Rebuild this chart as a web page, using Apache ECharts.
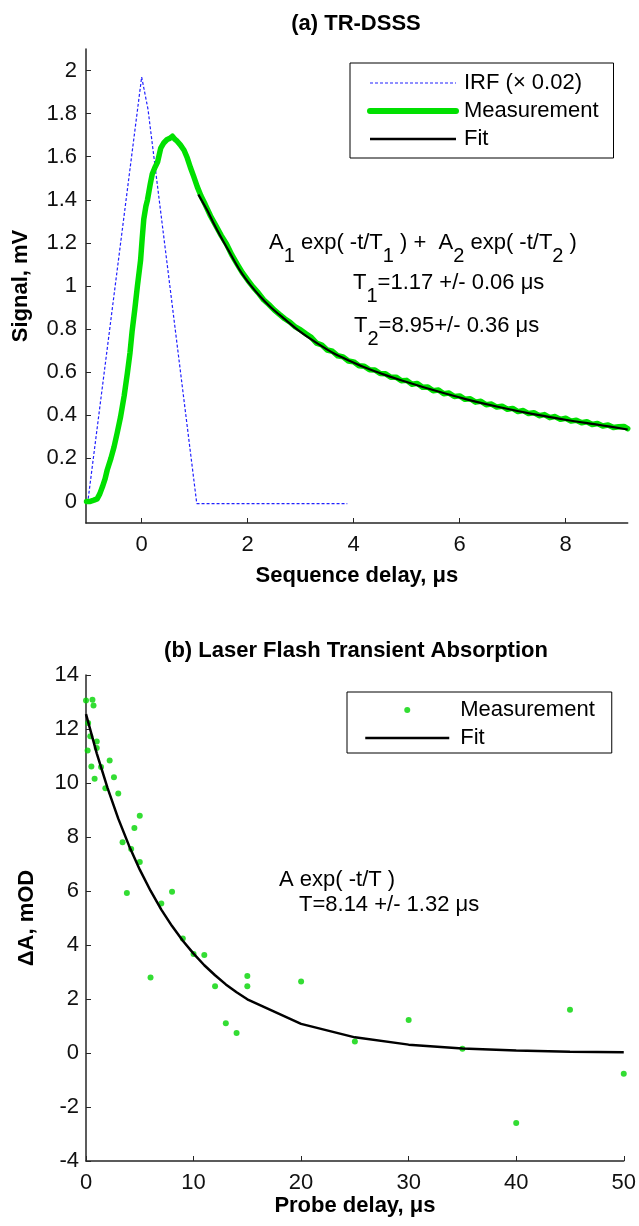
<!DOCTYPE html>
<html>
<head>
<meta charset="utf-8">
<script src="https://cdn.jsdelivr.net/npm/echarts@6/dist/echarts.min.js"></script>
<style>
  html, body { margin: 0; padding: 0; background: #fff; }
  #chart { width: 639px; height: 1226px; }
</style>
</head>
<body>
<div id="chart"></div>
<script>
// ---- (a) TR-DSSS: instrument response, measured signal and biexponential fit ----
const irfTime   = [-1.02, 0, 0.12, 1.04, 3.88];
const irfSignal = [-0.01, 1.97, 1.82, -0.01, -0.01];

const measTime = [
  -1.04, -0.97, -0.90, -0.84, -0.79, -0.74, -0.69, -0.65, -0.58, -0.52, -0.46, -0.40,
  -0.33, -0.27, -0.22, -0.18, -0.13, -0.08, -0.04, -0.02, 0.01, 0.04, 0.08, 0.11,
  0.16, 0.20, 0.25, 0.30, 0.36, 0.42, 0.48, 0.53, 0.58, 0.63, 0.67, 0.73,
  0.80, 0.86, 0.92, 0.98, 1.05, 1.12, 1.2, 1.3, 1.4, 1.5, 1.6, 1.7,
  1.8, 1.9, 2.0, 2.1, 2.2, 2.3, 2.4, 2.5, 2.6, 2.7, 2.8, 2.9,
  3.0, 3.1, 3.2, 3.3, 3.4, 3.5, 3.6, 3.7, 3.8, 3.9, 4.0, 4.1,
  4.2, 4.3, 4.4, 4.5, 4.6, 4.7, 4.8, 4.9, 5.0, 5.1, 5.2, 5.3,
  5.4, 5.5, 5.6, 5.7, 5.8, 5.9, 6.0, 6.1, 6.2, 6.3, 6.4, 6.5,
  6.6, 6.7, 6.8, 6.9, 7.0, 7.1, 7.2, 7.3, 7.4, 7.5, 7.6, 7.7,
  7.8, 7.9, 8.0, 8.1, 8.2, 8.3, 8.4, 8.5, 8.6, 8.7, 8.8, 8.9,
  9.0, 9.1, 9.17
];
const measSignal = [
  0.000, 0.000, 0.006, 0.012, 0.035, 0.068, 0.105, 0.146, 0.200, 0.254, 0.320, 0.390,
  0.490, 0.595, 0.690, 0.790, 0.890, 1.000, 1.080, 1.120, 1.220, 1.310, 1.370, 1.400,
  1.470, 1.520, 1.550, 1.575, 1.640, 1.665, 1.680, 1.685, 1.695, 1.680, 1.672, 1.655,
  1.630, 1.595, 1.550, 1.510, 1.460, 1.418, 1.378, 1.325, 1.280, 1.235, 1.195, 1.145,
  1.103, 1.062, 1.028, 0.996, 0.968, 0.936, 0.914, 0.889, 0.868, 0.848, 0.832, 0.810,
  0.796, 0.778, 0.762, 0.735, 0.726, 0.703, 0.697, 0.676, 0.671, 0.652, 0.648, 0.630,
  0.628, 0.611, 0.610, 0.594, 0.593, 0.576, 0.577, 0.560, 0.562, 0.544, 0.548, 0.530,
  0.531, 0.514, 0.517, 0.500, 0.503, 0.487, 0.490, 0.474, 0.477, 0.461, 0.465, 0.449,
  0.452, 0.438, 0.442, 0.428, 0.432, 0.417, 0.422, 0.408, 0.412, 0.398, 0.403, 0.389,
  0.394, 0.381, 0.386, 0.373, 0.377, 0.365, 0.370, 0.357, 0.362, 0.350, 0.355, 0.343,
  0.347, 0.348, 0.338
];

const fitTime = [1.07, 1.15, 1.24, 1.35, 1.49, 1.65, 1.86, 2.05, 2.24, 2.45, 2.68, 2.99,
                 3.3, 3.62, 3.94, 4.25, 4.56, 4.88, 5.5, 6.13, 6.76, 7.39, 8.02, 8.64, 9.17];
const fitSignal = [1.425, 1.39, 1.35, 1.295, 1.23, 1.16, 1.07, 1.005, 0.95, 0.898, 0.85, 0.788,
                   0.736, 0.688, 0.651, 0.618, 0.59, 0.564, 0.517, 0.474, 0.437, 0.405, 0.378, 0.355, 0.334];

const topXTicks = [0, 2, 4, 6, 8];
const topYTicks = [0, 0.2, 0.4, 0.6, 0.8, 1, 1.2, 1.4, 1.6, 1.8, 2];

// ---- (b) Laser flash transient absorption: points and single-exponential fit ----
const probeDelay = [0, 0.6, 0.7, 0.2, 0.4, 1, 1, 0.15, 0.5, 1.4, 2.2, 0.8, 2.6, 1.8, 3,
                    5, 4.5, 3.4, 4.2, 5, 3.8, 8, 7, 9, 10, 11, 6, 12, 15, 15, 13, 14,
                    20, 25, 30, 35, 40, 45, 50];
const deltaA = [13.06, 13.08, 12.87, 12.22, 11.73, 11.54, 11.3, 11.2, 10.61, 10.59, 10.83, 10.16, 10.21, 9.81, 9.61,
                8.79, 8.33, 7.81, 7.56, 7.07, 5.93, 5.97, 5.54, 4.24, 3.67, 3.63, 2.8, 2.47, 2.85, 2.47, 1.1, 0.74,
                2.65, 0.43, 1.22, 0.16, -2.59, 1.6, -0.77];

const fitDelay  = [0, 1, 2, 3, 4, 5, 6, 7, 8, 9, 10, 11, 12, 13, 14, 15, 20, 25, 30, 35, 40, 45, 50];
const fitDeltaA = [12.55, 11.1, 9.82, 8.68, 7.68, 6.79, 6.01, 5.31, 4.70, 4.16, 3.68, 3.25, 2.88, 2.54, 2.25, 1.99,
                   1.08, 0.58, 0.31, 0.17, 0.09, 0.05, 0.03];

// ---- styling ----
const FONT = '"Liberation Sans", Arial, Helvetica, sans-serif';
const AXIS_COLOR = '#262626';
const GREEN = '#00e000';
const DOT_GREEN = '#00d400';
const BLUE = '#2020ff';

function pairs(xs, ys) { return xs.map((x, i) => [x, ys[i]]); }

function axisBase(extra) {
  return Object.assign({
    type: 'value',
    nameLocation: 'middle',
    nameTextStyle: { color: '#000', fontSize: 22, fontWeight: 'bold', fontFamily: FONT },
    axisLine: { show: true, onZero: false, lineStyle: { color: AXIS_COLOR, width: 1.5 } },
    axisTick: { show: true, inside: true, length: 5, lineStyle: { color: AXIS_COLOR, width: 1 } },
    axisLabel: { color: '#111', fontSize: 22, fontFamily: FONT },
    splitLine: { show: false }
  }, extra);
}

// rich text: "n" = normal run, "s" = subscript pushed below the baseline
const richText = {
  n: { fontSize: 22, fontFamily: FONT, fill: '#000', verticalAlign: 'middle' },
  s: { fontSize: 20, fontFamily: FONT, fill: '#000', verticalAlign: 'middle', padding: [27, 0, 0, 0] }
};
function note(x, y, text) {
  return { type: 'text', x: x, y: y, z: 10,
           style: { text: text, rich: richText, align: 'left', verticalAlign: 'middle',
                    fontSize: 22, fontFamily: FONT, fill: '#000' } };
}

const titleStyle = { fontSize: 22, fontWeight: 'bold', fontFamily: FONT, color: '#000' };
const legendText = { fontSize: 22, lineHeight: 22, color: '#000', fontFamily: FONT, padding: [0, 0, 0, 3] };

const option = {
  animation: false,
  backgroundColor: '#fff',
  title: [
    { text: '(a) TR-DSSS', left: 356, top: 13, textAlign: 'center', padding: 0, textStyle: titleStyle },
    { text: '(b) Laser Flash Transient Absorption', left: 356, top: 640, textAlign: 'center', padding: 0, textStyle: titleStyle }
  ],
  grid: [
    { left: 86, top: 49, width: 541.7, height: 474, containLabel: false },
    { left: 86, top: 675, width: 538, height: 486, containLabel: false }
  ],
  xAxis: [
    axisBase({
      gridIndex: 0, min: -1.05, max: 9.17,
      name: 'Sequence delay, μs', nameGap: 42,
      axisTick: { show: true, inside: true, length: 5, customValues: topXTicks, lineStyle: { color: AXIS_COLOR, width: 1 } },
      axisLabel: { color: '#111', fontSize: 22, fontFamily: FONT, margin: 11, customValues: topXTicks }
    }),
    axisBase({
      gridIndex: 1, min: 0, max: 50, interval: 10,
      name: 'Probe delay, μs', nameGap: 30,
      axisLabel: { color: '#111', fontSize: 22, fontFamily: FONT, margin: 11 }
    })
  ],
  yAxis: [
    axisBase({
      gridIndex: 0, min: -0.1, max: 2.1,
      name: 'Signal, mV', nameGap: 54,
      axisTick: { show: true, inside: true, length: 5, customValues: topYTicks, lineStyle: { color: AXIS_COLOR, width: 1 } },
      axisLabel: { color: '#111', fontSize: 22, fontFamily: FONT, margin: 9, customValues: topYTicks }
    }),
    axisBase({
      gridIndex: 1, min: -4, max: 14, interval: 2,
      name: 'ΔA, mOD', nameGap: 48,
      axisLabel: { color: '#111', fontSize: 22, fontFamily: FONT, margin: 7 }
    })
  ],
  legend: [
    {
      orient: 'vertical', left: 350, top: 63, padding: [9, 15, 8, 17],
      itemWidth: 86, itemHeight: 8, itemGap: 6,
      borderColor: '#000', borderWidth: 1, backgroundColor: '#fff', selectedMode: false,
      textStyle: legendText,
      data: [
        { name: 'IRF (× 0.02)', itemStyle: { opacity: 0 }, lineStyle: { width: 1.2 } },
        { name: 'Measurement', itemStyle: { opacity: 0 }, lineStyle: { width: 6 } },
        { name: 'Fit', itemStyle: { opacity: 0 }, lineStyle: { width: 2.5 } }
      ]
    },
    {
      orient: 'vertical', left: 347, top: 692, padding: [7, 17, 4, 17],
      itemWidth: 84, itemHeight: 6, itemGap: 6,
      borderColor: '#000', borderWidth: 1, backgroundColor: '#fff', selectedMode: false,
      textStyle: Object.assign({}, legendText, { padding: [0, 0, 0, 6] }),
      formatter: name => name.replace(' (b)', ''),
      data: [
        { name: 'Measurement (b)' },
        { name: 'Fit (b)', itemStyle: { opacity: 0 }, lineStyle: { width: 2.5 } }
      ]
    }
  ],
  graphic: [
    note(269, 243, '{n|A}{s|1}{n| exp( -t/T}{s|1}{n| ) +  A}{s|2}{n| exp( -t/T}{s|2}{n| )}'),
    note(353, 283, '{n|T}{s|1}{n|=1.17 +/- 0.06 μs}'),
    note(354, 326, '{n|T}{s|2}{n|=8.95+/- 0.36 μs}'),
    note(279, 880, '{n|A exp( -t/T )}'),
    note(299, 905, '{n|T=8.14 +/- 1.32 μs}')
  ],
  series: [
    {
      name: 'IRF (× 0.02)', type: 'line', xAxisIndex: 0, yAxisIndex: 0,
      data: pairs(irfTime, irfSignal), symbol: 'none', z: 2,
      lineStyle: { color: BLUE, width: 1.2, type: [3, 2] }, itemStyle: { color: BLUE }
    },
    {
      name: 'Measurement', type: 'line', xAxisIndex: 0, yAxisIndex: 0,
      data: pairs(measTime, measSignal), symbol: 'none', z: 3,
      lineStyle: { color: GREEN, width: 5.5, join: 'round', cap: 'round' }, itemStyle: { color: GREEN }
    },
    {
      name: 'Fit', type: 'line', xAxisIndex: 0, yAxisIndex: 0,
      data: pairs(fitTime, fitSignal), symbol: 'none', smooth: 0.3, z: 4,
      lineStyle: { color: '#000', width: 2.2 }, itemStyle: { color: '#000' }
    },
    {
      name: 'Measurement (b)', type: 'scatter', xAxisIndex: 1, yAxisIndex: 1,
      data: pairs(probeDelay, deltaA), symbol: 'circle', symbolSize: 6, z: 3,
      itemStyle: { color: DOT_GREEN }
    },
    {
      name: 'Fit (b)', type: 'line', xAxisIndex: 1, yAxisIndex: 1,
      data: pairs(fitDelay, fitDeltaA), symbol: 'none', z: 4,
      lineStyle: { color: '#000', width: 2.5 }, itemStyle: { color: '#000' }
    }
  ]
};

const chart = echarts.init(document.getElementById('chart'), null, { renderer: 'canvas' });
chart.setOption(option);
</script>
</body>
</html>
